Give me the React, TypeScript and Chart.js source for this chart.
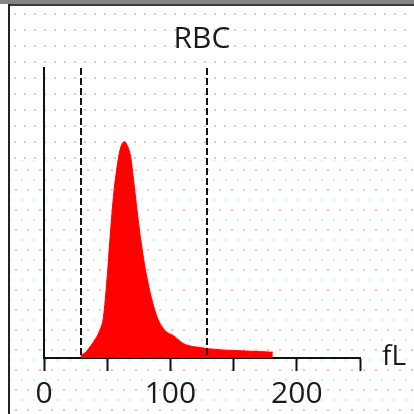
import React, { useEffect, useRef } from "react";
import { Chart, registerables } from "chart.js";

Chart.register(...registerables);

// Histogram: cell volume (fL) vs relative count
const volumes = [29, 32, 35, 38, 41, 44, 47, 50, 52, 54, 56, 58, 60, 62, 63.5, 65, 67, 68.5, 70, 72, 74, 76, 78, 80, 82, 84, 86, 88, 90, 93, 96, 99, 102, 106, 110, 115, 120, 125, 130, 140, 150, 160, 170, 181];
const counts = [1.0, 1.6, 3.0, 4.8, 6.8, 9.4, 14, 28, 40, 51, 60, 66.5, 71.5, 74, 74.6, 74, 72, 69.5, 64.5, 57, 49.5, 42.5, 36.5, 31, 26.5, 22.5, 19, 16, 13.5, 11, 9.3, 8.4, 7.8, 6.4, 5.0, 4.2, 3.8, 3.5, 3.2, 2.8, 2.6, 2.4, 2.2, 2.0];
const discriminators = [29, 129];
const labelledTicks = [0, 100, 200];
const titleText = "RBC";
const unitText = "fL";

const FONT = "'Open Sans', 'DejaVu Sans', sans-serif";

const overlayPlugin = {
  id: "overlay",
  afterDatasetsDraw(chart: any) {
    const { ctx, chartArea, scales } = chart;
    ctx.save();
    // dashed discriminator lines
    ctx.strokeStyle = "#111";
    ctx.lineWidth = 2;
    ctx.setLineDash([7, 3]);
    discriminators.forEach((v) => {
      const x = Math.round(scales.x.getPixelForValue(v));
      ctx.beginPath();
      ctx.moveTo(x, chartArea.top);
      ctx.lineTo(x, chartArea.bottom);
      ctx.stroke();
    });
    ctx.setLineDash([]);
    // title
    ctx.fillStyle = "#1a1a1a";
    ctx.font = `30px ${FONT}`;
    ctx.textAlign = "center";
    ctx.textBaseline = "alphabetic";
    ctx.fillText(titleText, (chartArea.left + chartArea.right) / 2, 48);
    // unit
    ctx.font = `28px ${FONT}`;
    ctx.textAlign = "left";
    ctx.fillText(unitText, chartArea.right + 22, chartArea.bottom + 7);
    ctx.restore();
  },
};

export default function App() {
  const ref = useRef<HTMLCanvasElement | null>(null);

  useEffect(() => {
    if (!ref.current) return;
    const chart = new Chart(ref.current, {
      type: "line",
      data: {
        datasets: [
          {
            data: volumes.map((v, i) => ({ x: v, y: counts[i] })),
            fill: "origin",
            backgroundColor: "#ff0000",
            borderColor: "#ff0000",
            borderWidth: 1,
            pointRadius: 0,
            cubicInterpolationMode: "monotone",
          },
        ],
      },
      options: {
        responsive: false,
        animation: false,
        layout: { padding: { left: 44, top: 68, right: 54, bottom: 0 } },
        plugins: {
          legend: { display: false },
          tooltip: { enabled: false },
          title: { display: false },
        },
        scales: {
          x: {
            type: "linear",
            min: 0,
            max: 250,
            afterFit: (s: any) => {
              s.height = 56;
            },
            ticks: {
              stepSize: 50,
              autoSkip: false,
              maxRotation: 0,
              padding: 5,
              color: "#1a1a1a",
              font: { family: FONT, size: 30 },
              callback: (v: any) => (labelledTicks.includes(Number(v)) ? String(v) : ""),
            },
            grid: {
              drawOnChartArea: false,
              drawTicks: true,
              tickLength: 13,
              tickWidth: 2,
              tickColor: "#111",
            },
            border: { display: true, width: 2, color: "#111" },
          },
          y: {
            min: 0,
            max: 100,
            afterFit: (s: any) => {
              s.width = 0;
            },
            ticks: { display: false },
            grid: { drawOnChartArea: false, drawTicks: false },
            border: { display: true, width: 2, color: "#111" },
          },
        },
      },
      plugins: [overlayPlugin],
    } as any);
    return () => chart.destroy();
  }, []);

  return (
    <div
      style={{
        position: "fixed",
        top: 0,
        left: 0,
        width: 414,
        height: 414,
        background: "#fff",
        overflow: "hidden",
      }}
    >
      <div
        style={{
          position: "absolute",
          left: 10,
          top: 6,
          right: 0,
          height: 160,
          backgroundImage: "radial-gradient(circle, #cfcfcf 0.9px, transparent 1.3px)",
          backgroundSize: "10px 16px",
        }}
      />
      <div
        style={{
          position: "absolute",
          left: 10,
          top: 160,
          right: 0,
          bottom: 0,
          backgroundImage:
            "radial-gradient(circle, #f6c4c4 0.9px, transparent 1.3px), radial-gradient(circle, #c6f4f4 0.9px, transparent 1.3px)",
          backgroundSize: "12px 20px, 12px 20px",
          backgroundPosition: "0 0, 6px 10px",
        }}
      />
      <div style={{ position: "absolute", left: 0, top: 0, width: 414, height: 4, background: "#848484" }} />
      <div style={{ position: "absolute", left: 8, top: 4, width: 406, height: 2, background: "#3a3a3a" }} />
      <div style={{ position: "absolute", left: 8, top: 4, width: 2, height: 410, background: "#222" }} />
      <canvas
        ref={ref}
        width={414}
        height={414}
        style={{ position: "absolute", left: 0, top: 0, width: 414, height: 414 }}
      />
    </div>
  );
}
